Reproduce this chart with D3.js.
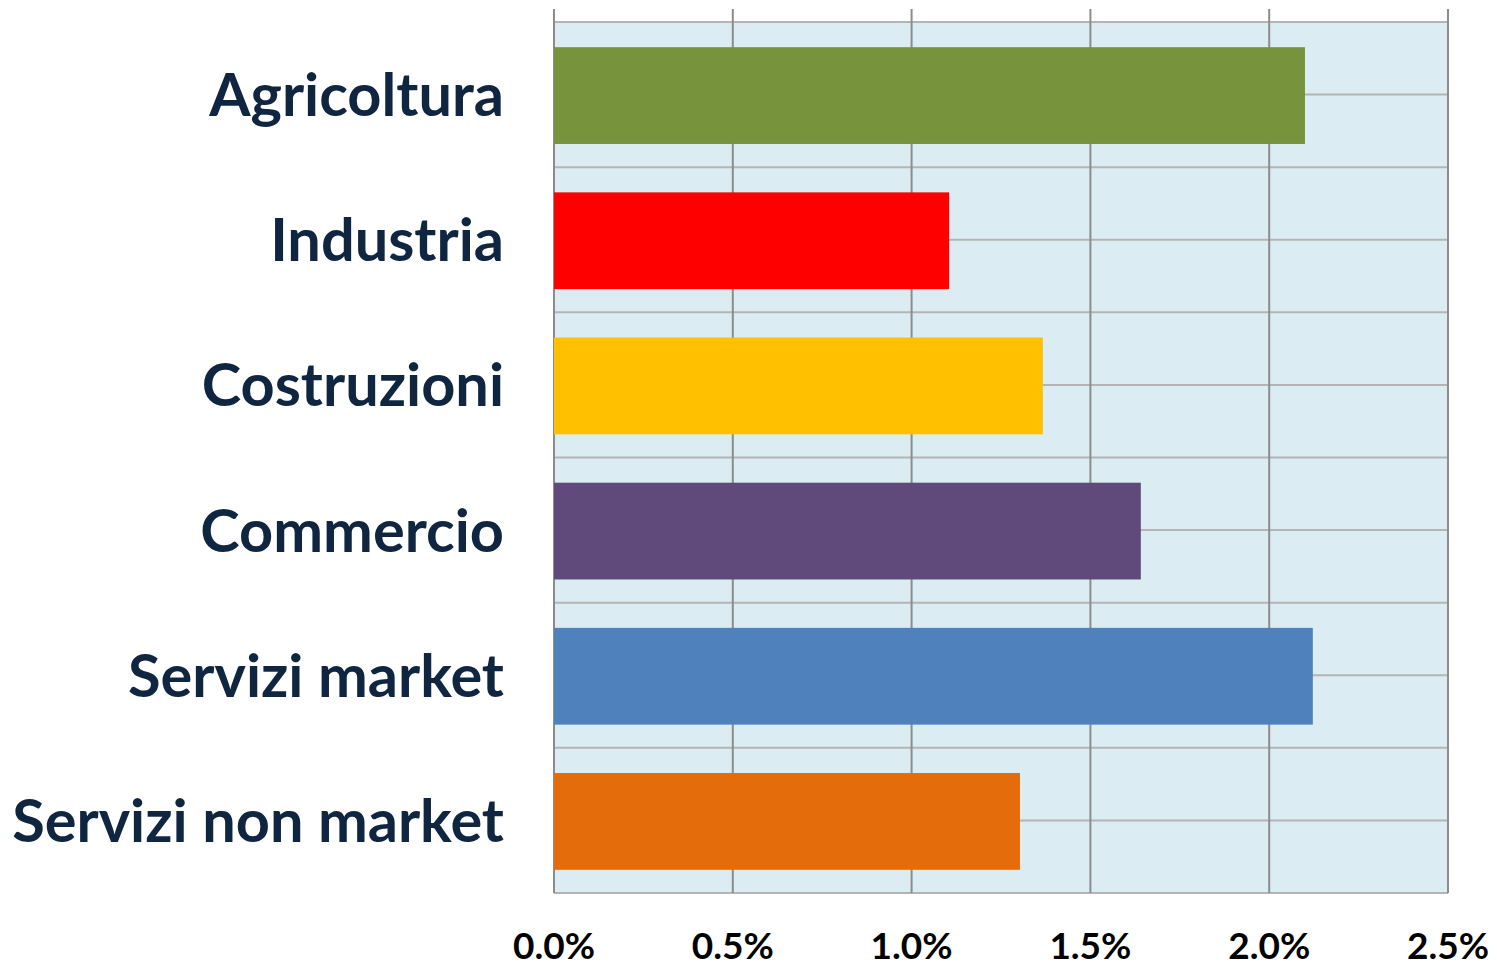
<!DOCTYPE html>
<html>
<head>
<meta charset="utf-8">
<script src="https://cdn.jsdelivr.net/npm/d3@7"></script>
<style>
    html, body { margin: 0; padding: 0; background: #fff; }
    svg { display: block; }
</style>
</head>
<body>
<div id="chart"></div>
<script>
// 数据
const categories = ['Agricoltura', 'Industria', 'Costruzioni', 'Commercio', 'Servizi market', 'Servizi non market'];
const values = [2.10, 1.105, 1.367, 1.641, 2.122, 1.303];   // %
const barColors = ['#77933C', '#FF0000', '#FFC000', '#604A7B', '#4F81BD', '#E46C0A'];
const xTicks = [0, 0.5, 1.0, 1.5, 2.0, 2.5];

const WIDTH = 1497;
const HEIGHT = 968;
const margin = { top: 22, right: 49, bottom: 75, left: 554 };

const svg = d3.select('#chart').append('svg')
    .attr('width', WIDTH)
    .attr('height', HEIGHT);

const plotW = WIDTH - margin.left - margin.right;
const plotH = HEIGHT - margin.top - margin.bottom;

const x = d3.scaleLinear().domain([0, 2.5]).range([0, plotW]);
const y = d3.scaleBand()
    .domain(categories)
    .range([0, plotH])
    .paddingInner(1 / 3)
    .paddingOuter(1 / 6);

const g = svg.append('g').attr('transform', `translate(${margin.left},${margin.top})`);

// 背景
g.append('rect')
    .attr('width', plotW)
    .attr('height', plotH)
    .attr('fill', '#DBEDF3');

// 横向网格线：每个类别的边界和中心
const step = y.step();
const hLines = d3.range(categories.length * 2 + 1).map(i => i * step / 2);
g.selectAll('line.h')
    .data(hLines)
    .join('line')
    .attr('class', 'h')
    .attr('x1', 0)
    .attr('x2', plotW)
    .attr('y1', d => d)
    .attr('y2', d => d)
    .attr('stroke', '#B4B4B4')
    .attr('stroke-width', 2);

// 纵向网格线
g.selectAll('line.v')
    .data(xTicks)
    .join('line')
    .attr('class', 'v')
    .attr('x1', d => x(d))
    .attr('x2', d => x(d))
    .attr('y1', -13)
    .attr('y2', plotH)
    .attr('stroke', '#8C8C8C')
    .attr('stroke-width', 2);

// 柱子
g.selectAll('rect.bar')
    .data(values)
    .join('rect')
    .attr('class', 'bar')
    .attr('x', 0)
    .attr('y', (d, i) => y(categories[i]) + 1)
    .attr('width', d => x(d))
    .attr('height', y.bandwidth())
    .attr('fill', (d, i) => barColors[i]);

// 类别标签
g.selectAll('text.cat')
    .data(categories)
    .join('text')
    .attr('class', 'cat')
    .attr('x', -50)
    .attr('y', d => y(d) + y.bandwidth() / 2)
    .attr('dy', '0.36em')
    .attr('text-anchor', 'end')
    .attr('fill', '#10253F')
    .style('font-family', 'Lato, "Open Sans", sans-serif')
    .style('font-weight', 700)
    .style('font-size', '59.5px')
    .text(d => d);

// X轴刻度标签
g.selectAll('text.tick')
    .data(xTicks)
    .join('text')
    .attr('class', 'tick')
    .attr('x', d => x(d))
    .attr('y', plotH + 66)
    .attr('text-anchor', 'middle')
    .attr('fill', '#000')
    .style('font-family', 'Lato, "Open Sans", sans-serif')
    .style('font-weight', 700)
    .style('font-size', '37px')
    .text(d => d3.format('.1f')(d) + '%');
</script>
</body>
</html>
